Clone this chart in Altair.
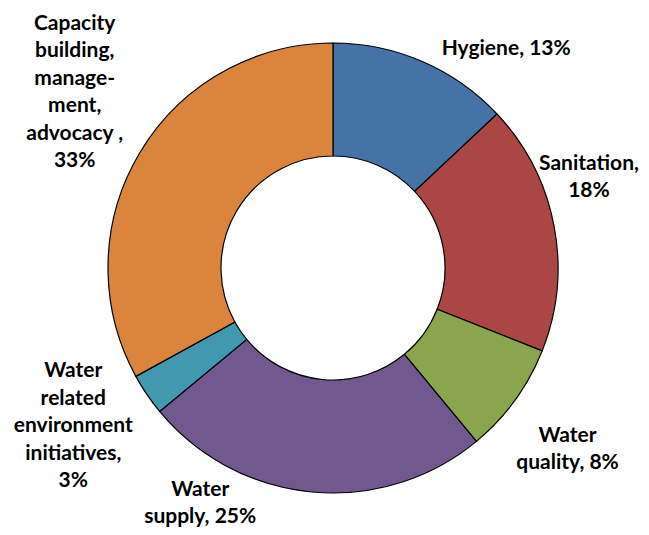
import altair as alt
import pandas as pd

categories = ["Hygiene", "Sanitation", "Water quality", "Water supply",
              "Water related environment initiatives",
              "Capacity building, management, advocacy"]
values = [13, 18, 8, 25, 3, 33]
labels = ["Hygiene, 13%", "Sanitation,\n18%", "Water\nquality, 8%",
          "Water\nsupply, 25%",
          "Water\nrelated\nenvironment\ninitiatives,\n3%",
          "Capacity\nbuilding,\nmanage-\nment,\nadvocacy ,\n33%"]
colors = ["#4572A7", "#AA4643", "#89A54E", "#71588F", "#4198AF", "#DB843D"]

# label nudges (style) relative to polar placement
nudges = [(60, 43), (-24, -51), (4, 0), (-106, -62), (-24, -57), (-13, -99)]

df = pd.DataFrame({"category": categories, "value": values,
                   "label": labels, "order": list(range(len(values)))})

base = alt.Chart(df)

arcs = base.mark_arc(radius=225, radius2=112, stroke="black",
                     strokeWidth=1.2).encode(
    theta=alt.Theta("value:Q", stack=True),
    order=alt.Order("order:Q"),
    color=alt.Color("category:N", scale=alt.Scale(domain=categories, range=colors),
                    legend=None),
)

text_layers = []
for i, (dx, dy) in enumerate(nudges):
    t = base.mark_text(radius=285, font="Lato", fontWeight="bold", fontSize=21,
                       lineHeight=27.5, lineBreak="\n", color="black",
                       align="center", baseline="middle", dx=dx, dy=dy).encode(
        theta=alt.Theta("value:Q", stack=True),
        order=alt.Order("order:Q"),
        text="label:N",
        opacity=alt.condition(alt.datum.order == i, alt.value(1), alt.value(0)),
    )
    text_layers.append(t)

chart = alt.layer(arcs, *text_layers).properties(
    width=616, height=520,
    padding={"left": 17, "top": 0, "right": 0, "bottom": 0},
    autosize=alt.AutoSizeParams(type="none"),
).configure_view(stroke=None)

chart.save("out.html", embed_options={"renderer": "svg", "actions": False})
